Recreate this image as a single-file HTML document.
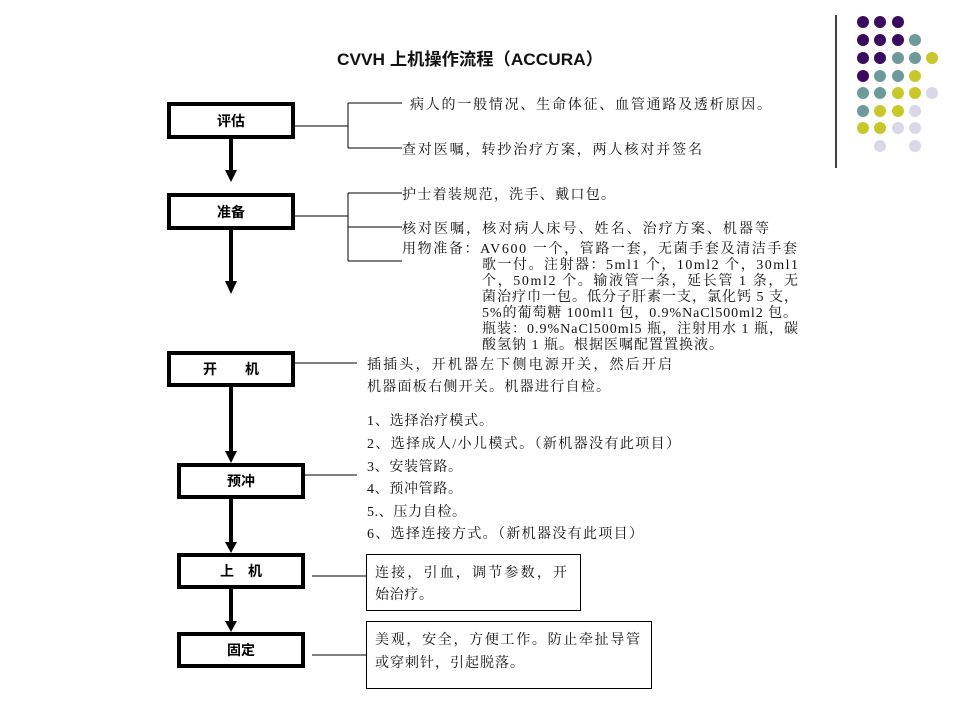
<!DOCTYPE html>
<html><head><meta charset="utf-8"><style>
html,body{margin:0;padding:0;background:#fff;}
svg{display:block;}
.t{font-family:"Liberation Serif","Noto Serif CJK SC",serif;font-size:14px;fill:#111;}
.b{font-family:"Liberation Sans","Noto Sans CJK SC",sans-serif;font-size:14px;font-weight:bold;fill:#000;}
</style></head><body>
<svg width="960" height="720" viewBox="0 0 960 720" xmlns="http://www.w3.org/2000/svg">
<rect width="960" height="720" fill="#fff"/>
<line x1="836" y1="15" x2="836" y2="168" stroke="#000" stroke-width="1.5"/>
<g>
<circle cx="863" cy="22" r="6" fill="#3b0a5e"/><circle cx="880" cy="22" r="6" fill="#3b0a5e"/><circle cx="898" cy="22" r="6" fill="#3b0a5e"/>
<circle cx="863" cy="40" r="6" fill="#3b0a5e"/><circle cx="880" cy="40" r="6" fill="#3b0a5e"/><circle cx="898" cy="40" r="6" fill="#3b0a5e"/><circle cx="915" cy="40" r="6" fill="#6f9a9a"/>
<circle cx="863" cy="58" r="6" fill="#3b0a5e"/><circle cx="880" cy="58" r="6" fill="#3b0a5e"/><circle cx="898" cy="58" r="6" fill="#6f9a9a"/><circle cx="915" cy="58" r="6" fill="#6f9a9a"/><circle cx="932" cy="58" r="6" fill="#c8c82a"/>
<circle cx="863" cy="76" r="6" fill="#3b0a5e"/><circle cx="880" cy="76" r="6" fill="#6f9a9a"/><circle cx="898" cy="76" r="6" fill="#6f9a9a"/><circle cx="915" cy="76" r="6" fill="#c8c82a"/>
<circle cx="863" cy="93" r="6" fill="#6f9a9a"/><circle cx="880" cy="93" r="6" fill="#6f9a9a"/><circle cx="898" cy="93" r="6" fill="#c8c82a"/><circle cx="915" cy="93" r="6" fill="#c8c82a"/><circle cx="932" cy="93" r="6" fill="#d8d8e8"/>
<circle cx="863" cy="111" r="6" fill="#6f9a9a"/><circle cx="880" cy="111" r="6" fill="#c8c82a"/><circle cx="898" cy="111" r="6" fill="#c8c82a"/><circle cx="915" cy="111" r="6" fill="#d8d8e8"/>
<circle cx="863" cy="128" r="6" fill="#c8c82a"/><circle cx="880" cy="128" r="6" fill="#c8c82a"/><circle cx="898" cy="128" r="6" fill="#d8d8e8"/><circle cx="915" cy="128" r="6" fill="#d8d8e8"/>
<circle cx="880" cy="146" r="6" fill="#d8d8e8"/><circle cx="915" cy="146" r="6" fill="#d8d8e8"/>
</g>
<text x="337" y="65" textLength="266" lengthAdjust="spacingAndGlyphs" style="font-family:'Liberation Sans','Noto Sans CJK SC',sans-serif;font-size:17px;font-weight:bold;fill:#111">CVVH 上机操作流程（ACCURA）</text>

<g fill="none" stroke="#000" stroke-width="4">
<rect x="169" y="104" width="124" height="33"/>
<rect x="169" y="195" width="124" height="33"/>
<rect x="169" y="353" width="124" height="32"/>
<rect x="179" y="465" width="124" height="32"/>
<rect x="179" y="555" width="124" height="32"/>
<rect x="179" y="634" width="124" height="32"/>
</g>
<g class="b" text-anchor="middle">
<text x="231" y="126">评估</text>
<text x="231" y="217">准备</text>
<text x="231" y="374">开　　机</text>
<text x="241" y="486">预冲</text>
<text x="241" y="576">上　机</text>
<text x="241" y="655">固定</text>
</g>
<g stroke="#000" stroke-width="4">
<line x1="231" y1="138" x2="231" y2="172"/>
<line x1="231" y1="229" x2="231" y2="283"/>
<line x1="231" y1="386" x2="231" y2="452"/>
<line x1="231" y1="498" x2="231" y2="543"/>
<line x1="231" y1="588" x2="231" y2="622"/>
</g>
<g fill="#000">
<polygon points="225,170 237,170 231,182"/>
<polygon points="225,281 237,281 231,294"/>
<polygon points="225,451 237,451 231,463"/>
<polygon points="225,542 237,542 231,553"/>
<polygon points="225,621 237,621 231,632"/>
</g>
<g stroke="#000" stroke-width="1" fill="none">
<path d="M295 126H348M348 103V148M348 103H402M348 148H402"/>
<path d="M295 216H348M348 193V261M348 193H402M348 227H402M348 261H402"/>
<path d="M295 363H357"/>
<path d="M304 475H357"/>
<path d="M312 576H366"/>
<path d="M312 655H366"/>
<rect x="366.5" y="554.5" width="214" height="56"/>
<rect x="366.5" y="621.5" width="285" height="67"/>
</g>
<g class="t" lengthAdjust="spacingAndGlyphs">
<text x="410" y="109" textLength="361">病人的一般情况、生命体征、血管通路及透析原因。</text>
<text x="402" y="154" textLength="300">查对医嘱，转抄治疗方案，两人核对并签名</text>
<text x="402" y="199" textLength="213">护士着装规范，洗手、戴口包。</text>
<text x="402" y="233" textLength="367">核对医嘱，核对病人床号、姓名、治疗方案、机器等</text>
<text x="402" y="253" textLength="395">用物准备：AV600 一个，管路一套，无菌手套及清洁手套</text>
<text x="482" y="269" textLength="316">歌一付。注射器：5ml1 个，10ml2 个，30ml1</text>
<text x="482" y="285" textLength="316">个，50ml2 个。输液管一条，延长管 1 条，无</text>
<text x="482" y="301" textLength="316">菌治疗巾一包。低分子肝素一支，氯化钙 5 支，</text>
<text x="482" y="317" textLength="315">5%的葡萄糖 100ml1 包，0.9%NaCl500ml2 包。</text>
<text x="482" y="333" textLength="316">瓶装：0.9%NaCl500ml5 瓶，注射用水 1 瓶，碳</text>
<text x="482" y="349" textLength="241">酸氢钠 1 瓶。根据医嘱配置置换液。</text>
<text x="367" y="369" textLength="305">插插头，开机器左下侧电源开关，然后开启</text>
<text x="367" y="391" textLength="243">机器面板右侧开关。机器进行自检。</text>
<text x="367" y="425" textLength="126">1、选择治疗模式。</text>
<text x="367" y="448" textLength="313">2、选择成人/小儿模式。（新机器没有此项目）</text>
<text x="367" y="471" textLength="95">3、安装管路。</text>
<text x="367" y="493" textLength="95">4、预冲管路。</text>
<text x="367" y="516" textLength="99">5.、压力自检。</text>
<text x="367" y="538" textLength="276">6、选择连接方式。（新机器没有此项目）</text>
<text x="375" y="577" textLength="192">连接，引血，调节参数，开</text>
<text x="375" y="599" textLength="58">始治疗。</text>
<text x="375" y="644" textLength="265">美观，安全，方便工作。防止牵扯导管</text>
<text x="375" y="667" textLength="149">或穿刺针，引起脱落。</text>
</g>
</svg>
</body></html>
